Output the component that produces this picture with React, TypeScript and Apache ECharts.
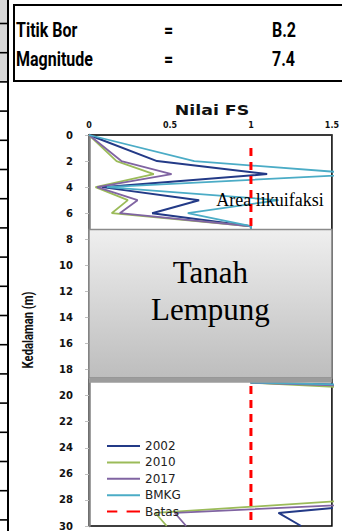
import { useEffect, useRef } from "react";
import * as echarts from "echarts";

// Depth of each reading (m) and factor of safety (FS) per source
const depths = [0, 2, 3, 4, 5, 6, 7, 19, 20, 28, 29, 30];
const fs2002 = [0, 0.42, 1.1, 0.08, 0.68, 0.39, 1.0, 1.0, 4.5, 2.04, 1.17, 1.31];
const fs2010 = [0, 0.17, 0.4, 0.04, 0.24, 0.14, 1.0, 1.0, 2.6, 1.65, 0.41, 0.48];
const fs2017 = [0, 0.2, 0.51, 0.05, 0.3, 0.19, 1.0, 1.0, 3.5, 2.2, 0.53, 0.6];
const fsBMKG = [0, 0.65, 1.7, 0.11, 1.17, 0.61, 1.0, 1.0, 5.0, 3.0, 2.6, 2.3];

// FS = 1 limit line
const batasDepths = [1, 30];
const batasFS = 1;

// Clay layer (m)
const clayTop = 7.25;
const clayBottom = 18.65;
const clayBase = 19;

const seriesNames = ["2002", "2010", "2017", "BMKG", "Batas"];
const headerRows = [
  ["Titik Bor", "=", "B.2"],
  ["Magnitude", "=", "7.4"],
];

export default function App() {
  const ref = useRef<HTMLDivElement>(null);

  useEffect(() => {
    if (!ref.current) return;
    const chart = echarts.init(ref.current, null, { renderer: "svg" });

    const fsLine = (name: string, values: number[], color: string, width: number) => ({
      name,
      type: "line",
      data: depths.map((d, i) => [values[i], d]),
      symbol: "none",
      lineStyle: { color, width },
      itemStyle: { color },
      z: 2,
    });

    // spreadsheet cell borders on the left edge
    const sideCells: any[] = [
      { type: "rect", shape: { x: 0, y: 0, width: 8, height: 82 }, style: { fill: "#d9d9d9" } },
    ];
    for (let y = 23.5; y < 531; y += 29.2) {
      sideCells.push({
        type: "line",
        shape: { x1: 0, y1: y, x2: 8, y2: y },
        style: { stroke: "#000", lineWidth: 1.6 },
      });
    }
    sideCells.push({
      type: "line",
      shape: { x1: 8, y1: 0, x2: 8, y2: 531 },
      style: { stroke: "#000", lineWidth: 2 },
    });

    const headerFont = "bold 20px Roboto, 'Noto Sans', sans-serif";
    const headerTexts: any[] = [];
    headerRows.forEach((row, i) => {
      const y = 30 + i * 29;
      headerTexts.push(
        {
          type: "text", x: 16, y, scaleX: 0.8,
          style: { text: row[0], font: headerFont, fill: "#000", textAlign: "left", textVerticalAlign: "middle" },
        },
        {
          type: "text", x: 168.5, y, scaleX: 0.8,
          style: { text: row[1], font: headerFont, fill: "#000", textAlign: "center", textVerticalAlign: "middle" },
        },
        {
          type: "text", x: 272, y, scaleX: 0.8,
          style: { text: row[2], font: headerFont, fill: "#000", textAlign: "left", textVerticalAlign: "middle" },
        }
      );
    });

    chart.setOption({
      animation: false,
      backgroundColor: "#fff",
      grid: { left: 89, top: 135, width: 247.5, height: 397, show: true, borderColor: "#000", borderWidth: 1.5 },
      xAxis: {
        type: "value",
        position: "top",
        min: 0,
        max: 1.5,
        interval: 0.5,
        axisLine: { show: true, lineStyle: { color: "#3a3a3a", width: 1.5 } },
        axisTick: { show: false },
        splitLine: { show: false },
        axisLabel: {
          margin: 6,
          fontSize: 8,
          fontWeight: "bold",
          fontFamily: "'DejaVu Sans', sans-serif",
          color: "#111",
        },
      },
      yAxis: {
        type: "value",
        inverse: true,
        min: 0,
        max: 30,
        interval: 2,
        axisLine: { show: true, lineStyle: { color: "#808080", width: 2.5 } },
        axisTick: { show: true, inside: false, length: 4, lineStyle: { color: "#bfbfbf" } },
        splitLine: { show: false },
        axisLabel: {
          margin: 16,
          fontSize: 10,
          fontWeight: "bold",
          fontFamily: "'DejaVu Sans', sans-serif",
          color: "#111",
        },
      },
      legend: {
        orient: "vertical",
        left: 102,
        top: 435,
        itemWidth: 33,
        itemHeight: 2,
        itemGap: 4.4,
        symbolKeepAspect: false,
        data: seriesNames.map((n) =>
          n === "Batas"
            ? { name: n, icon: "path://M0,0H10V3H0Z M19,0H32V3H19Z", itemHeight: 3 }
            : { name: n, icon: "rect" }
        ),
        textStyle: { fontSize: 12, fontFamily: "'DejaVu Sans', sans-serif", color: "#222" },
      },
      series: [
        fsLine("2002", fs2002, "#233a87", 2),
        fsLine("2010", fs2010, "#9bbb59", 1.8),
        fsLine("2017", fs2017, "#8064a2", 1.8),
        fsLine("BMKG", fsBMKG, "#4bacc6", 1.8),
        {
          name: "Batas",
          type: "line",
          data: batasDepths.map((d) => [batasFS, d]),
          symbol: "none",
          lineStyle: { color: "#ff0000", width: 3, type: [8, 6] },
          itemStyle: { color: "#ff0000" },
          z: 3,
        },
        {
          name: "clay",
          type: "line",
          data: [],
          symbol: "none",
          z: 5,
          markArea: {
            silent: true,
            z: 10,
            data: [
              [
                {
                  xAxis: 0,
                  yAxis: clayTop,
                  itemStyle: {
                    opacity: 1,
                    color: new echarts.graphic.LinearGradient(0, 0, 0, 1, [
                      { offset: 0, color: "#efefef" },
                      { offset: 1, color: "#bdbdbd" },
                    ]),
                    borderColor: "#8a8a8a",
                    borderWidth: 1.5,
                  },
                  label: {
                    show: true,
                    position: "inside",
                    offset: [0, -13],
                    formatter: "Tanah\nLempung",
                    fontFamily: "'Liberation Serif', 'DejaVu Serif', serif",
                    fontSize: 31,
                    lineHeight: 37,
                    color: "#000",
                  },
                },
                { xAxis: 1.5, yAxis: clayBottom },
              ],
              [
                {
                  xAxis: 0,
                  yAxis: clayBottom,
                  itemStyle: { opacity: 1, color: "#9c9c9c", borderWidth: 0 },
                  label: { show: false },
                },
                { xAxis: 1.5, yAxis: clayBase },
              ],
            ],
          },
        },
      ],
      graphic: [
        ...sideCells,
        {
          type: "rect",
          shape: { x: 14, y: 5, width: 340, height: 76 },
          style: { fill: "#fff", stroke: "#000", lineWidth: 2 },
        },
        ...headerTexts,
        {
          type: "text",
          x: 212,
          y: 110,
          scaleX: 1.24,
          style: {
            text: "Nilai FS",
            font: "bold 14px 'DejaVu Sans', sans-serif",
            fill: "#111",
            textAlign: "center",
            textVerticalAlign: "middle",
          },
        },
        {
          type: "text",
          x: 28,
          y: 330,
          rotation: Math.PI / 2,
          scaleX: 0.75,
          style: {
            text: "Kedalaman (m)",
            font: "bold 15px Roboto, sans-serif",
            fill: "#111",
            textAlign: "center",
            textVerticalAlign: "middle",
          },
        },
        {
          type: "text",
          x: 270,
          y: 200,
          z: 10,
          style: {
            text: "Area likuifaksi",
            font: "18px 'Liberation Serif', serif",
            fill: "#000",
            textAlign: "center",
            textVerticalAlign: "middle",
          },
        },
      ],
    });

    return () => chart.dispose();
  }, []);

  return (
    <div
      ref={ref}
      style={{ position: "fixed", left: 0, top: 0, width: 342, height: 531 }}
    />
  );
}
